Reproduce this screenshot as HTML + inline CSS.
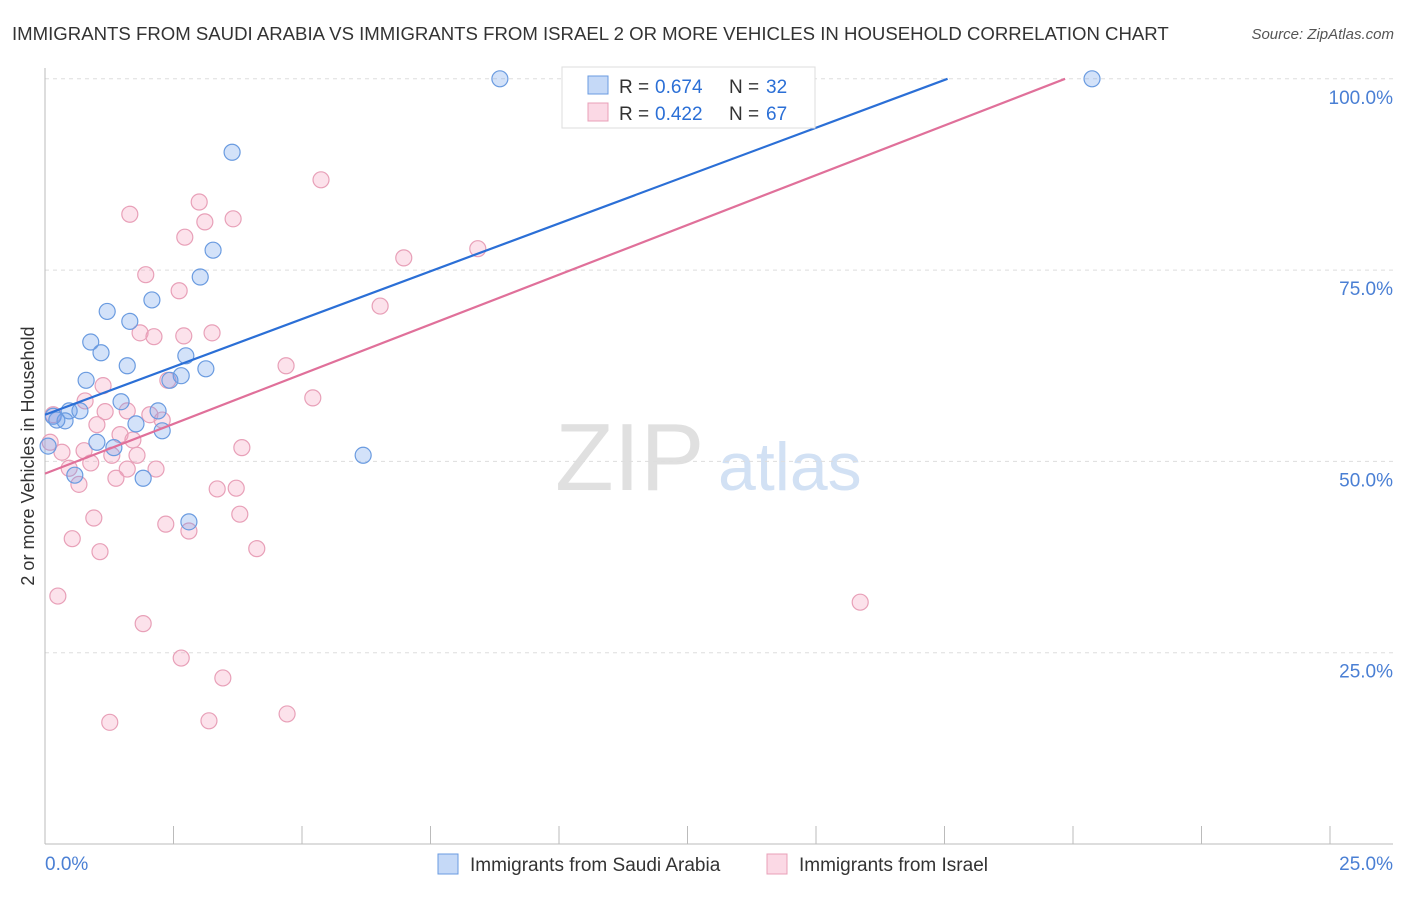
<!DOCTYPE html>
<html><head><meta charset="utf-8">
<style>
body{margin:0;background:#fff;font-family:"Liberation Sans",sans-serif;}
svg text{font-family:"Liberation Sans",sans-serif;}
</style></head>
<body>
<svg id="chart" width="1406" height="892" viewBox="0 0 1406 892" xmlns="http://www.w3.org/2000/svg">
<text x="12" y="40" font-size="18.6" fill="#333">IMMIGRANTS FROM SAUDI ARABIA VS IMMIGRANTS FROM ISRAEL 2 OR MORE VEHICLES IN HOUSEHOLD CORRELATION CHART</text>
<text x="1394" y="39" font-size="15" fill="#555" font-style="italic" text-anchor="end">Source: ZipAtlas.com</text>
<g>
<text x="555" y="490" font-size="96" fill="#ddd" font-family="Liberation Serif" opacity="0.9">ZIP</text>
<text x="718" y="490" font-size="68" fill="#c8daf2" opacity="0.8">atlas</text>
</g>
<text transform="translate(34,456) rotate(-90)" font-size="18" fill="#333" text-anchor="middle">2 or more Vehicles in Household</text>
<g id="grid"></g>
<g id="axes"></g>
<g id="marks"></g>
<g>
<rect x="562" y="67" width="253" height="61" fill="#fff" stroke="#ddd"/>
<rect x="588" y="76" width="20" height="18" fill="rgba(110,160,235,0.4)" stroke="#6a9be0"/>
<text x="619" y="93" font-size="19" fill="#333">R =</text>
<text x="655" y="93" font-size="19" fill="#2b6fd6">0.674</text>
<text x="729" y="93" font-size="19" fill="#333">N =</text>
<text x="766" y="93" font-size="19" fill="#2b6fd6">32</text>
<rect x="588" y="103" width="20" height="18" fill="rgba(245,160,190,0.4)" stroke="#e8a0b8"/>
<text x="619" y="120" font-size="19" fill="#333">R =</text>
<text x="655" y="120" font-size="19" fill="#2b6fd6">0.422</text>
<text x="729" y="120" font-size="19" fill="#333">N =</text>
<text x="766" y="120" font-size="19" fill="#2b6fd6">67</text>
</g>
<g>
<rect x="438" y="854" width="20" height="20" fill="rgba(110,160,235,0.4)" stroke="#6a9be0"/>
<text x="470" y="871" font-size="19" fill="#333">Immigrants from Saudi Arabia</text>
<rect x="767" y="854" width="20" height="20" fill="rgba(245,160,190,0.4)" stroke="#e8a0b8"/>
<text x="799" y="871" font-size="19" fill="#333">Immigrants from Israel</text>
</g>
</svg>
<script>
const yTicks=[25,50,75,100];
const yTickLabels=["25.0%","50.0%","75.0%","100.0%"];
const xTicks=[0,2.5,5,7.5,10,12.5,15,17.5,20,22.5,25];
const saudiX=[8.85,20.37,3.64,3.27,3.02,2.08,1.21,1.65,0.89,1.09,1.60,2.74,3.13,2.65,2.43,0.80,1.48,2.20,0.47,0.16,0.39,0.23,1.77,2.28,1.01,1.34,0.06,0.58,1.91,2.80,6.19,0.68];
const saudiY=[100,100,90.4,77.6,74.1,71.1,69.6,68.3,65.6,64.2,62.5,63.8,62.1,61.2,60.6,60.6,57.8,56.6,56.6,55.9,55.3,55.4,54.9,54.0,52.5,51.8,52.0,48.2,47.8,42.1,50.8,56.6];
const israelX=[10.37,11.93,5.37,3.00,1.65,3.66,3.11,2.72,8.42,6.98,1.96,2.61,6.52,1.85,2.12,2.70,3.25,4.69,2.39,1.13,5.21,0.78,1.17,1.60,2.04,2.28,0.16,1.01,1.46,1.71,3.83,0.76,1.79,1.30,0.89,0.47,1.60,2.16,0.66,1.38,3.35,3.72,0.95,3.79,2.35,2.80,0.53,1.07,4.12,0.25,1.91,15.86,2.65,3.46,1.26,3.19,4.71,0.10,0.33];
const israelY=[100,100,86.8,83.9,82.3,81.7,81.3,79.3,77.8,76.6,74.4,72.3,70.3,66.8,66.3,66.4,66.8,62.5,60.6,59.9,58.3,57.9,56.5,56.6,56.1,55.4,56.1,54.8,53.5,52.8,51.8,51.4,50.8,50.8,49.8,49.1,49.0,49.0,47.0,47.8,46.4,46.5,42.6,43.1,41.8,40.9,39.9,38.2,38.6,32.4,28.8,31.6,24.3,21.7,15.9,16.1,17.0,52.5,51.2];
const saudiTrend=[56.1,2.50];
const israelTrend=[48.4,2.60];
const NS="http://www.w3.org/2000/svg";
const X=v=>45+v*51.4, Y=v=>844-v*7.652;
function mk(t,a,p){const e=document.createElementNS(NS,t);for(const k in a)e.setAttribute(k,a[k]);p.appendChild(e);return e;}
const grid=document.getElementById('grid'),axes=document.getElementById('axes'),marks=document.getElementById('marks');
yTicks.forEach((t,i)=>{
 const l=mk('line',{x1:45,x2:1393,y1:Y(t),y2:Y(t),stroke:'#ddd','stroke-dasharray':'4,4'},grid);
 
 
 const tx=mk('text',{x:1393,y:Y(t)+25,'font-size':19,fill:'#4a7fd4','text-anchor':'end'},axes);
 tx.textContent=yTickLabels[i];
 
 
});
const ax=mk('line',{x1:45,x2:1393,y1:844,y2:844,stroke:'#bbb'},axes);


const ay=mk('line',{x1:45,x2:45,y1:68,y2:844,stroke:'#bbb'},axes);


xTicks.forEach(t=>{const l=mk('line',{x1:X(t),x2:X(t),y1:826,y2:844,stroke:'#bbb'},axes);
 
 });
const x0=mk('text',{x:45,y:870,'font-size':19,fill:'#4a7fd4'},axes);x0.textContent='0.0%';


const x1=mk('text',{x:1393,y:870,'font-size':19,fill:'#4a7fd4','text-anchor':'end'},axes);x1.textContent='25.0%';


function pts(xs,ys,fill,stroke,name){xs.forEach((x,i)=>{const c=mk('circle',{cx:X(x),cy:Y(ys[i]),r:8,fill:fill,stroke:stroke,'stroke-width':1.2},marks);
 
 });}
pts(israelX,israelY,'rgba(245,160,190,0.3)','#e8a0b8','israel-point');
pts(saudiX,saudiY,'rgba(110,160,235,0.3)','#6a9be0','saudi-point');
function trend(tr,color,name){const xe=(100-tr[0])/tr[1];const l=mk('line',{x1:X(0),y1:Y(tr[0]),x2:X(xe),y2:Y(100),stroke:color,'stroke-width':2.2},marks);
 
 }
trend(saudiTrend,'#2b6fd6','saudi-trend-line');
trend(israelTrend,'#e0709a','israel-trend-line');
</script>
</body></html>
